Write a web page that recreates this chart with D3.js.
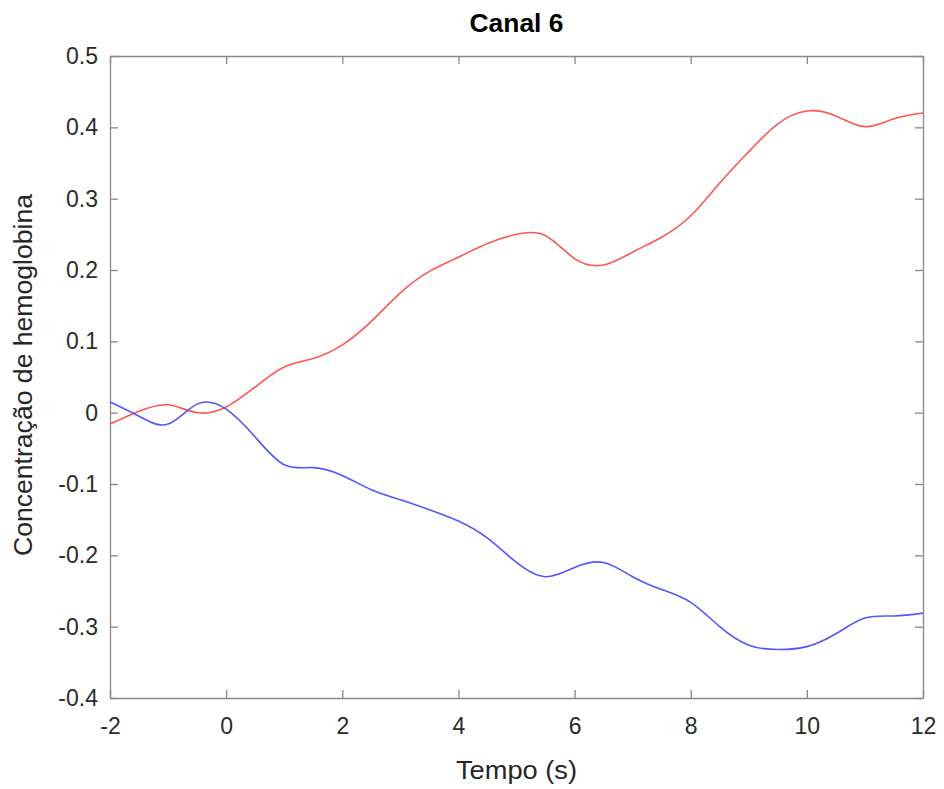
<!DOCTYPE html>
<html>
<head>
<meta charset="utf-8">
<script src="https://cdn.jsdelivr.net/npm/d3@7"></script>
<style>
  body { margin: 0; background: #fff; }
  text { font-family: "Liberation Sans", Arial, sans-serif; }
</style>
</head>
<body>
<svg id="chart" width="944" height="789"></svg>
<script>
// tempo (s)
var tempo = [-2,-1.5,-1,-0.5,0,0.5,1,1.5,2,2.5,3,3.5,4,4.5,5,5.5,6,6.5,7,7.5,8,8.5,9,9.5,10,10.5,11,11.5,12];
// curva vermelha
var serieVermelha = [-0.016,0.002,0.011,0.000,0.008,0.036,0.064,0.076,0.095,0.128,0.168,0.198,0.218,0.237,0.250,0.248,0.216,0.207,0.225,0.246,0.276,0.322,0.366,0.405,0.423,0.416,0.401,0.412,0.420];
// curva azul
var serieAzul = [0.015,-0.005,-0.016,0.012,0.005,-0.034,-0.073,-0.077,-0.088,-0.108,-0.122,-0.136,-0.152,-0.176,-0.210,-0.230,-0.217,-0.210,-0.230,-0.248,-0.266,-0.300,-0.326,-0.332,-0.328,-0.310,-0.288,-0.285,-0.281];
var xTicks = [-2,0,2,4,6,8,10,12];
var yTicks = [-0.4,-0.3,-0.2,-0.1,0,0.1,0.2,0.3,0.4,0.5];

var margin = {left:110, top:56, right:21, bottom:91},
    width = 944 - margin.left - margin.right,
    height = 789 - margin.top - margin.bottom;

var svg = d3.select("#chart");
var g = svg.append("g").attr("transform","translate(" + margin.left + "," + margin.top + ")");

var x = d3.scaleLinear().domain([-2,12]).range([0,width]);
var y = d3.scaleLinear().domain([-0.4,0.5]).range([height,0]);

// matlab usa hifen normal no sinal
var fmt = function(d){ return String(Math.round(d*10)/10); };

// eixos com ticks para dentro (estilo matlab)
function styleAxis(sel){
	sel.select(".domain").attr("stroke","#888").attr("stroke-width",1.3);
	sel.selectAll(".tick line").attr("stroke","#888").attr("stroke-width",1.3);
	sel.selectAll(".tick text").attr("fill","#2b2b2b").style("font-size","23px");
}

g.append("g").attr("transform","translate(0," + height + ")")
	.call(d3.axisBottom(x).tickValues(xTicks).tickSizeInner(-8).tickSizeOuter(0).tickPadding(20).tickFormat(fmt))
	.call(styleAxis);
g.append("g")
	.call(d3.axisTop(x).tickValues(xTicks).tickSizeInner(-8).tickSizeOuter(0).tickFormat(""))
	.call(styleAxis);
g.append("g")
	.call(d3.axisLeft(y).tickValues(yTicks).tickSizeInner(-8).tickSizeOuter(0).tickPadding(12).tickFormat(fmt))
	.call(styleAxis);
g.append("g").attr("transform","translate(" + width + ",0)")
	.call(d3.axisRight(y).tickValues(yTicks).tickSizeInner(-8).tickSizeOuter(0).tickFormat(""))
	.call(styleAxis);

var line = d3.line()
	.x(function(d){ return x(d[0]); })
	.y(function(d){ return y(d[1]); })
	.curve(d3.curveNatural);

g.append("path")
	.datum(d3.zip(tempo, serieVermelha))
	.attr("fill","none").attr("stroke","#ff5555").attr("stroke-width",1.6)
	.attr("d", line);
g.append("path")
	.datum(d3.zip(tempo, serieAzul))
	.attr("fill","none").attr("stroke","#5555ff").attr("stroke-width",1.6)
	.attr("d", line);

// titulo e rotulos
svg.append("text").attr("x", margin.left + width/2).attr("y", 32)
	.attr("text-anchor","middle").style("font-size","25px").style("font-weight","bold").attr("fill","#000")
	.attr("textLength",94).attr("lengthAdjust","spacingAndGlyphs")
	.text("Canal 6");
svg.append("text").attr("x", margin.left + width/2).attr("y", 779)
	.attr("text-anchor","middle").style("font-size","25px").attr("fill","#262626")
	.attr("textLength",121).attr("lengthAdjust","spacingAndGlyphs")
	.text("Tempo (s)");
svg.append("text")
	.attr("transform","translate(32,375) rotate(-90)")
	.attr("text-anchor","middle").style("font-size","25px").attr("fill","#262626")
	.attr("textLength",362).attr("lengthAdjust","spacingAndGlyphs")
	.text("Concentração de hemoglobina");
</script>
</body>
</html>
